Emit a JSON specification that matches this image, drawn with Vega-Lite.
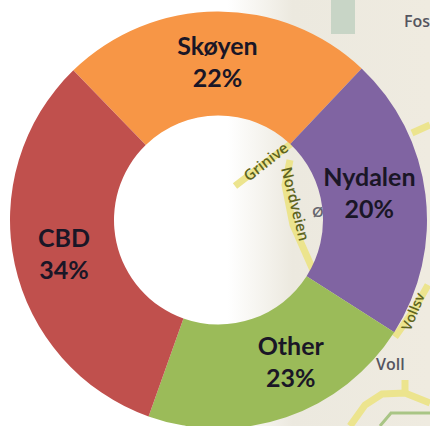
{
"$schema":"https://vega.github.io/schema/vega-lite/v6.json",
"width":430,"height":426,"padding":0,"autosize":"none","background":"white",
"config":{"view":{"stroke":null},"axis":{"disable":true}},
"layer":[
{"data":{"values":[{"a":1}]},
 "mark":{"type":"rect","color":{"gradient":"linear","x1":0,"x2":1,"y1":0,"y2":0,"stops":[{"offset":0,"color":"#ffffff"},{"offset":0.53,"color":"#ffffff"},{"offset":0.68,"color":"#ece9df"},{"offset":1,"color":"#efebe0"}]}},
 "encoding":{"x":{"value":0},"x2":{"value":430},"y":{"value":0},"y2":{"value":426}}},
{"data":{"values":[{"seq":1,"x":343,"y":0},{"seq":2,"x":343,"y":34}]},
 "mark":{"type":"line","color":"#c8d5c6","strokeWidth":24},
 "encoding":{"x":{"field":"x","type":"quantitative","scale":{"domain":[0,430]},"axis":null},
  "y":{"field":"y","type":"quantitative","scale":{"domain":[0,426],"reverse":true},"axis":null},"order":{"field":"seq"}}},
{"data":{"values":[
 {"road":"a","seq":1,"x":235,"y":186},{"road":"a","seq":2,"x":265,"y":163},{"road":"a","seq":3,"x":292,"y":143},
 {"road":"b","seq":1,"x":290,"y":160},{"road":"b","seq":2,"x":285,"y":185},{"road":"b","seq":3,"x":293,"y":225},{"road":"b","seq":4,"x":313,"y":270},
 {"road":"c","seq":1,"x":428,"y":285},{"road":"c","seq":2,"x":414,"y":310},{"road":"c","seq":3,"x":395,"y":337},
 {"road":"d","seq":1,"x":350,"y":426},{"road":"d","seq":2,"x":365,"y":405},{"road":"d","seq":3,"x":382,"y":394},{"road":"d","seq":4,"x":405,"y":393},{"road":"d","seq":5,"x":430,"y":403},
 {"road":"f","seq":1,"x":405,"y":380},{"road":"f","seq":2,"x":405,"y":396},
 {"road":"e","seq":1,"x":412,"y":133},{"road":"e","seq":2,"x":430,"y":125}
 ]},
 "mark":{"type":"line","color":"#ece48e","strokeWidth":7},
 "encoding":{"x":{"field":"x","type":"quantitative","scale":{"domain":[0,430]},"axis":null},
  "y":{"field":"y","type":"quantitative","scale":{"domain":[0,426],"reverse":true},"axis":null},
  "detail":{"field":"road"},"order":{"field":"seq"}}},
{"data":{"values":[{"seq":1,"x":380,"y":426},{"seq":2,"x":391,"y":413},{"seq":3,"x":430,"y":413}]},
 "mark":{"type":"line","color":"#a9c585","strokeWidth":3},
 "encoding":{"x":{"field":"x","type":"quantitative","scale":{"domain":[0,430]},"axis":null},
  "y":{"field":"y","type":"quantitative","scale":{"domain":[0,426],"reverse":true},"axis":null},"order":{"field":"seq"}}},
{"data":{"values":[{"t":"Fos","x":404,"y":22},{"t":"Voll","x":376,"y":365}]},
 "mark":{"type":"text","font":"Open Sans","fontWeight":600,"fontSize":16,"color":"#55555f","align":"left","baseline":"middle"},
 "encoding":{"x":{"field":"x","type":"quantitative","scale":{"domain":[0,430]},"axis":null},
  "y":{"field":"y","type":"quantitative","scale":{"domain":[0,426],"reverse":true},"axis":null},"text":{"field":"t"}}},
{"data":{"values":[{"t":"Grinive","x":266,"y":162}]},
 "mark":{"type":"text","font":"Open Sans","fontWeight":600,"fontSize":15,"color":"#5e6420","angle":-38,"align":"center","baseline":"middle"},
 "encoding":{"x":{"field":"x","type":"quantitative","scale":{"domain":[0,430]},"axis":null},
  "y":{"field":"y","type":"quantitative","scale":{"domain":[0,426],"reverse":true},"axis":null},"text":{"field":"t"}}},
{"data":{"values":[{"t":"Nordveien","x":295,"y":204}]},
 "mark":{"type":"text","font":"Open Sans","fontWeight":600,"fontSize":15,"color":"#5e6420","angle":76,"align":"center","baseline":"middle"},
 "encoding":{"x":{"field":"x","type":"quantitative","scale":{"domain":[0,430]},"axis":null},
  "y":{"field":"y","type":"quantitative","scale":{"domain":[0,426],"reverse":true},"axis":null},"text":{"field":"t"}}},
{"data":{"values":[{"t":"Vollsv","x":414,"y":312}]},
 "mark":{"type":"text","font":"Open Sans","fontWeight":600,"fontSize":14,"color":"#5e6420","angle":-68,"align":"center","baseline":"middle"},
 "encoding":{"x":{"field":"x","type":"quantitative","scale":{"domain":[0,430]},"axis":null},
  "y":{"field":"y","type":"quantitative","scale":{"domain":[0,426],"reverse":true},"axis":null},"text":{"field":"t"}}},
{"data":{"values":[{"t":"Ø","x":318,"y":212}]},
 "mark":{"type":"text","font":"Open Sans","fontWeight":600,"fontSize":15,"color":"#66666e","align":"center","baseline":"middle"},
 "encoding":{"x":{"field":"x","type":"quantitative","scale":{"domain":[0,430]},"axis":null},
  "y":{"field":"y","type":"quantitative","scale":{"domain":[0,426],"reverse":true},"axis":null},"text":{"field":"t"}}},
{"data":{"values":[
 {"area":"Skøyen","sweep":24.3,"rank":1,"label":"Skøyen\n22%"},
 {"area":"Nydalen","sweep":22.0,"rank":2,"label":"Nydalen\n20%"},
 {"area":"Other","sweep":21.4,"rank":3,"label":"Other\n23%"},
 {"area":"CBD","sweep":32.3,"rank":4,"label":"CBD\n34%"}]},
 "transform":[{"stack":"sweep","groupby":[],"sort":[{"field":"rank","order":"ascending"}],"as":["s0","s1"]},{"calculate":"(datum.s0+datum.s1)/2","as":"mid"}],
 "encoding":{"x":{"value":218.5},"y":{"value":220}},
 "layer":[
  {"mark":{"type":"arc","innerRadius":104.5,"outerRadius":208.5},
   "encoding":{"theta":{"field":"s0","type":"quantitative","scale":{"domain":[0,100],"range":[-0.77,5.513]}},"theta2":{"field":"s1"},
    "color":{"field":"area","type":"nominal","legend":null,"scale":{"domain":["Skøyen","Nydalen","Other","CBD"],"range":["#F79646","#8064A2","#9BBB59","#C0504D"]}}}},
  {"transform":[{"filter":"datum.area==='Skøyen'"}],
   "mark":{"type":"text","font":"Lato","fontWeight":"bold","fontSize":25,"color":"#1a1626","lineBreak":"\n","lineHeight":32,"align":"center","baseline":"middle","radius":155,"dx":0,"dy":-18},
   "encoding":{"theta":{"field":"mid","type":"quantitative"},"text":{"field":"label"}}},
  {"transform":[{"filter":"datum.area==='Nydalen'"}],
   "mark":{"type":"text","font":"Lato","fontWeight":"bold","fontSize":25,"color":"#1a1626","lineBreak":"\n","lineHeight":32,"align":"center","baseline":"middle","radius":155,"dx":-3,"dy":-23},
   "encoding":{"theta":{"field":"mid","type":"quantitative"},"text":{"field":"label"}}},
  {"transform":[{"filter":"datum.area==='Other'"}],
   "mark":{"type":"text","font":"Lato","fontWeight":"bold","fontSize":25,"color":"#1a1626","lineBreak":"\n","lineHeight":32,"align":"center","baseline":"middle","radius":155,"dx":22,"dy":-20},
   "encoding":{"theta":{"field":"mid","type":"quantitative"},"text":{"field":"label"}}},
  {"transform":[{"filter":"datum.area==='CBD'"}],
   "mark":{"type":"text","font":"Lato","fontWeight":"bold","fontSize":25,"color":"#1a1626","lineBreak":"\n","lineHeight":32,"align":"center","baseline":"middle","radius":155,"dx":-3,"dy":-14},
   "encoding":{"theta":{"field":"mid","type":"quantitative"},"text":{"field":"label"}}}
 ]}
]
}
